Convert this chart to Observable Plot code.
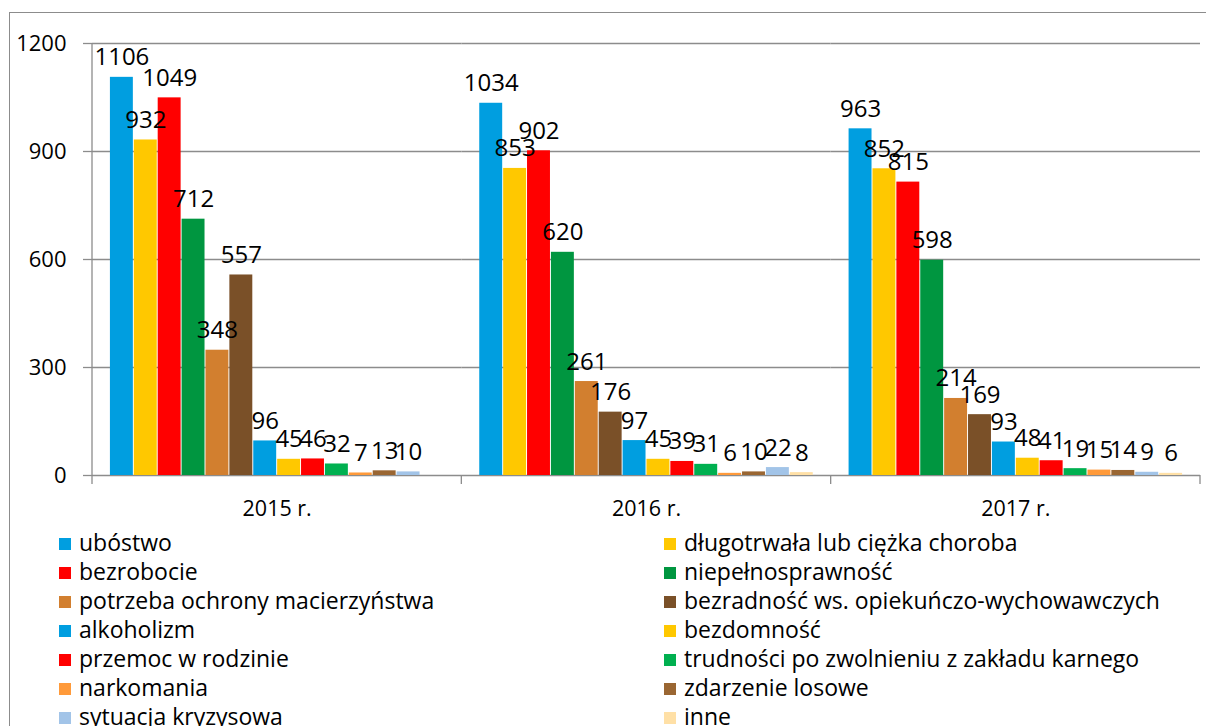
<!DOCTYPE html>
<html>
<head>
<meta charset="utf-8">
<script src="https://cdn.jsdelivr.net/npm/d3@7"></script>
<script src="https://cdn.jsdelivr.net/npm/@observablehq/plot@0.6"></script>
<style>
  html, body { margin: 0; padding: 0; background: #fff; }
  body { width: 1206px; height: 726px; position: relative; overflow: hidden; font-family: "Open Sans", sans-serif; }
  #frame { position: absolute; left: 9px; top: 12px; width: 1300px; height: 800px; border: 1.5px solid #8c8c8c; pointer-events: none; }
  #chart { position: absolute; left: 0; top: 0; }
  #legend { position: absolute; left: 0; top: 528px; width: 1206px; }
  .item { position: absolute; font-size: 23px; line-height: 29px; color: #000; white-space: nowrap; }
  .sw { display: inline-block; width: 12px; height: 12px; margin-right: 8px; vertical-align: 1px; }
</style>
</head>
<body>
<div id="chart"></div>
<div id="legend"></div>
<div id="frame"></div>
<script>
const years = ["2015 r.", "2016 r.", "2017 r."];
const categories = [
  "ubóstwo",
  "długotrwała lub ciężka choroba",
  "bezrobocie",
  "niepełnosprawność",
  "potrzeba ochrony macierzyństwa",
  "bezradność ws. opiekuńczo-wychowawczych",
  "alkoholizm",
  "bezdomność",
  "przemoc w rodzinie",
  "trudności po zwolnieniu z zakładu karnego",
  "narkomania",
  "zdarzenie losowe",
  "sytuacja kryzysowa",
  "inne"
];
const values2015 = [1106, 932, 1049, 712, 348, 557, 96, 45, 46, 32, 7, 13, 10, null];
const values2016 = [1034, 853, 902, 620, 261, 176, 97, 45, 39, 31, 6, 10, 22, 8];
const values2017 = [963, 852, 815, 598, 214, 169, 93, 48, 41, 19, 15, 14, 9, 6];
const colors = [
  "#009ee0", "#ffc800", "#ff0000", "#009640", "#d27f2f", "#7a5028", "#009ee0",
  "#ffc800", "#ff0000", "#00b050", "#ff9a3a", "#9a6632", "#a2c4e8", "#ffe0a6"
];
const yTicks = [0, 300, 600, 900, 1200];

const seriesByYear = [values2015, values2016, values2017];
const data = [];
years.forEach((yr, i) => {
  categories.forEach((c, j) => {
    const v = seriesByYear[i][j];
    if (v != null) data.push({year: yr, cat: c, value: v});
  });
});

const FONT = "'Open Sans', sans-serif";
const W = 1206, H = 525;
const chart = Plot.plot({
  width: W,
  height: H,
  marginLeft: 92,
  marginRight: 6,
  marginTop: 43,
  marginBottom: H - 475,
  style: {fontFamily: FONT, fontSize: "20px", color: "#000", background: "transparent", overflow: "visible"},
  fx: {domain: years, padding: 0, round: false, label: null, axis: null},
  x: {domain: categories, paddingInner: 0.04, paddingOuter: 0.75, round: false, axis: null},
  y: {domain: [0, 1200], axis: null},
  color: {domain: categories, range: colors},
  marks: [
    Plot.gridY(yTicks, {stroke: "#8c8c8c", strokeOpacity: 1, strokeWidth: 1.3}),
    Plot.axisY(yTicks, {tickSize: 9, tickPadding: 17, stroke: "#8c8c8c", strokeWidth: 1.3, fill: "#000", fontSize: 22, label: null, tickFormat: d => String(d)}),
    Plot.axisFx({anchor: "bottom", tickSize: 0, tickPadding: 25, fontSize: 21.5, fill: "#000", label: null}),
    Plot.barY(data, {fx: "year", x: "cat", y: "value", fill: "cat", style: "filter: drop-shadow(1.5px 1.5px 1.5px rgba(0,0,0,0.35))"}),
    Plot.text(data, {fx: "year", x: "cat", y: "value", text: d => String(d.value), dy: -12, lineAnchor: "bottom", fontSize: 24, fill: "#000"})
  ]
});
document.getElementById("chart").appendChild(chart);

// Axis line and facet-boundary ticks
const svg = d3.select(chart.tagName === "svg" ? chart : chart.querySelector("svg"));
const fxs = chart.scale("fx");
const yS = chart.scale("y");
const r0 = fxs.range[0], r1 = fxs.range[1];
const step = (r1 - r0) / years.length;
const yBase = yS.range[0];
const yTop = yS.range[1];
const g = svg.append("g").attr("stroke", "#8c8c8c").attr("stroke-width", 1.3);
g.append("line").attr("x1", r0).attr("x2", r0).attr("y1", yTop).attr("y2", yBase + 9);
for (let i = 1; i <= years.length; i++) {
  const xx = r0 + i * step;
  g.append("line").attr("x1", xx).attr("x2", xx).attr("y1", yBase).attr("y2", yBase + 9);
}

// Legend
const legend = document.getElementById("legend");
categories.forEach((c, i) => {
  const row = Math.floor(i / 2), col = i % 2;
  const div = document.createElement("div");
  div.className = "item";
  div.style.left = (col === 0 ? 59 : 664) + "px";
  div.style.top = (row * 29) + "px";
  const sw = document.createElement("span");
  sw.className = "sw";
  sw.style.background = colors[i];
  div.appendChild(sw);
  div.appendChild(document.createTextNode(c));
  legend.appendChild(div);
});
</script>
</body>
</html>
